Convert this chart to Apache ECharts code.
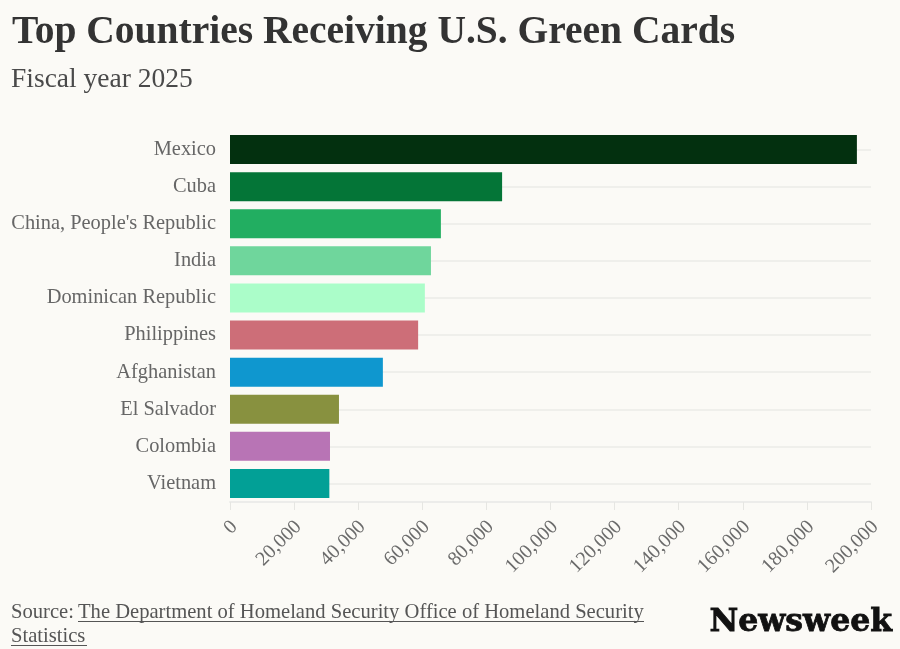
<!DOCTYPE html>
<html><head><meta charset="utf-8">
<style>html,body{margin:0;padding:0;background:#fbfaf6}#c{width:900px;height:649px}</style>
<script src="https://cdn.jsdelivr.net/npm/echarts@6/dist/echarts.min.js"></script>
</head><body><div id="c"></div>
<script>
const categories = ["Mexico","Cuba","China, People's Republic","India","Dominican Republic","Philippines","Afghanistan","El Salvador","Colombia","Vietnam"];
const values = [195600,84900,65800,62700,60800,58700,47700,34000,31200,31000];
const barColors = ["#03300f","#047537","#22ae61","#6fd69c","#abfdc9","#cd6e78","#0f97cf","#88913f","#b874b5","#02a096"];
const titleText = "Top Countries Receiving U.S. Green Cards";
const subtitleText = "Fiscal year 2025";
const serif = "'Liberation Serif','DejaVu Serif',serif";
const chart = echarts.init(document.getElementById('c'), null, {renderer:'canvas'});
chart.setOption({
  animation:false,
  backgroundColor:'#fbfaf6',
  grid:{left:230,top:131,width:641,height:371,containLabel:false},
  xAxis:{type:'value',min:0,max:200000,interval:20000,
    axisLine:{show:true,lineStyle:{color:'#ececea',width:2}},
    axisTick:{show:true,length:8,lineStyle:{color:'#e6e6e2',width:1}},
    splitLine:{show:false},
    axisLabel:{rotate:45,color:'#6b6b6b',fontFamily:serif,fontSize:20,margin:12,verticalAlign:'top',padding:[0,4,0,0],
      formatter:v=>v.toLocaleString('en-US')}},
  yAxis:{type:'category',inverse:true,data:categories,
    axisLine:{show:false},axisTick:{show:false},splitLine:{show:false},
    axisLabel:{color:'#666666',fontFamily:serif,fontSize:20.4,margin:14}},
  series:[{type:'bar',data:values.map((v,i)=>({value:v,itemStyle:{color:barColors[i]}})),
    barWidth:29,
    markLine:{silent:true,symbol:'none',label:{show:false},z:0,
      lineStyle:{color:'#efefeb',width:2,type:'solid'},
      data:categories.map(c=>({yAxis:c}))}}],
  graphic:[
    {type:'text',left:12,top:13,style:{text:titleText,font:"bold 39.5px "+serif,fill:'#333333'}},
    {type:'text',left:11,top:66,style:{text:subtitleText,font:"27.5px "+serif,fill:'#4a4a4a'}},
    {type:'text',left:11,top:602,style:{text:"Source: ",font:"20.6px "+serif,fill:'#555555'}},
    {type:'text',left:78,top:602,style:{text:"The Department of Homeland Security Office of Homeland Security",font:"20.6px "+serif,fill:'#555555'}},
    {type:'rect',shape:{x:78,y:621,width:566,height:1},style:{fill:'#555555'}},
    {type:'text',left:11,top:626,style:{text:"Statistics",font:"20.6px "+serif,fill:'#555555'}},
    {type:'rect',shape:{x:11,y:645,width:76,height:1},style:{fill:'#555555'}},
    {type:'text',left:709,top:606,style:{text:"Newsweek",font:"bold 31.5px 'DejaVu Serif',serif",fill:'#111111',stroke:'#111111',lineWidth:0.8}}
  ]
});
</script></body></html>
